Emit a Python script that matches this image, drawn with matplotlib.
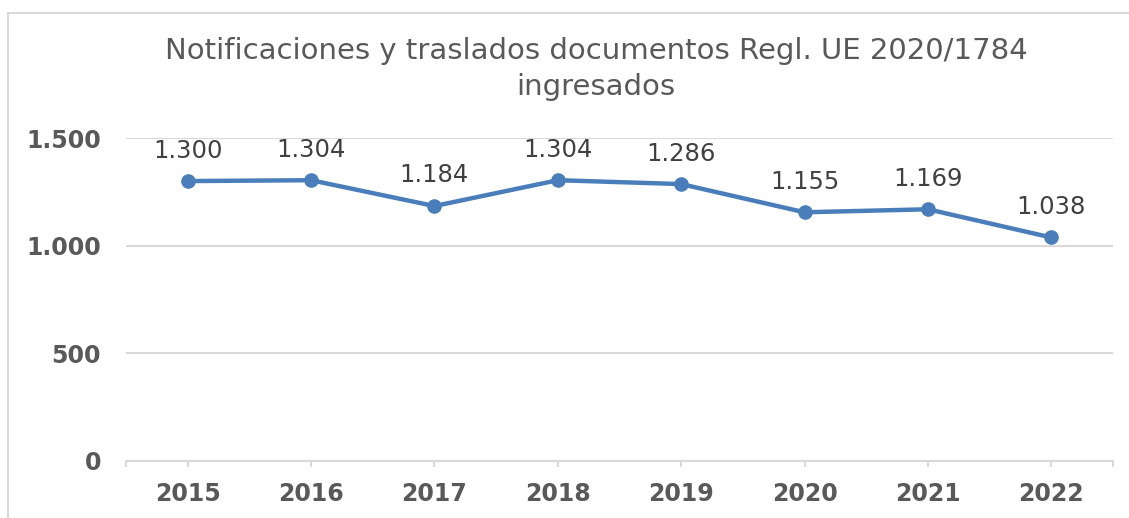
import matplotlib.pyplot as plt
from matplotlib.patches import Rectangle
from matplotlib.ticker import FuncFormatter, FixedLocator

years = ["2015", "2016", "2017", "2018", "2019", "2020", "2021", "2022"]
valores = [1300, 1304, 1184, 1304, 1286, 1155, 1169, 1038]
titulo = "Notificaciones y traslados documentos Regl. UE 2020/1784\ningresados"

gris = "#595959"
azul = "#4A7EBB"
rejilla = "#D9D9D9"

def miles(v, pos=None):
    return f"{int(v):,}".replace(",", ".")

fig = plt.figure(figsize=(11.29, 5.18), dpi=100)
fig.patch.set_facecolor("white")

# borde del grafico (sale por la derecha y por abajo)
fig.patches.append(Rectangle((8 / 1129, -0.1), 1.2, 1 - 13.5 / 518 + 0.1,
                             transform=fig.transFigure, fill=False,
                             edgecolor=rejilla, linewidth=1.5))

ax = fig.add_axes([126 / 1129, 1 - 461 / 518, (1113 - 126) / 1129, (461 - 138) / 518])
x = list(range(len(years)))
ax.plot(x, valores, color=azul, linewidth=3.2, marker="o", markersize=9.5, zorder=3)

for xi, v in zip(x, valores):
    ax.annotate(miles(v), (xi, v), xytext=(0, 22), textcoords="offset points",
                ha="center", va="center", fontsize=17.5, color="#404040")

ax.set_xlim(-0.5, len(years) - 0.5)
ax.set_ylim(0, 1500)
ax.set_yticks([0, 500, 1000, 1500])
ax.yaxis.set_major_formatter(FuncFormatter(miles))
ax.set_xticks(x)
ax.set_xticklabels(years)
ax.xaxis.set_minor_locator(FixedLocator([-0.5, len(years) - 0.5]))

ax.grid(axis="y", color=rejilla, linewidth=1.5, zorder=0)
ax.set_axisbelow(True)
for s in ["top", "right", "left"]:
    ax.spines[s].set_visible(False)
ax.spines["bottom"].set_color(rejilla)
ax.spines["bottom"].set_linewidth(1.5)

ax.tick_params(axis="y", length=0, pad=18, labelsize=17, labelcolor=gris)
ax.tick_params(axis="x", which="both", length=4, width=1.5, color=rejilla,
               pad=11, labelsize=17, labelcolor=gris)
for lab in ax.get_xticklabels() + ax.get_yticklabels():
    lab.set_fontweight("bold")

fig.text(596 / 1129, 1 - 69 / 518, titulo, ha="center", va="center",
         fontsize=21, color=gris, linespacing=1.38)

fig.savefig("out.png", dpi=100)
